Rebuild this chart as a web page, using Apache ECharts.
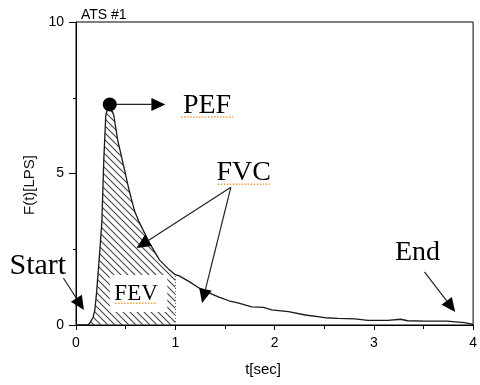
<!DOCTYPE html>
<html>
<head>
<meta charset="utf-8">
<script src="https://cdn.jsdelivr.net/npm/echarts@6/dist/echarts.min.js"></script>
<style>
  html, body { margin: 0; padding: 0; background: #fff; }
  #chart { width: 480px; height: 385px; }
</style>
</head>
<body>
<div id="chart"></div>
<script>
// flow-time curve
const timeSec = [0, 0.12, 0.14, 0.17, 0.19, 0.207, 0.233, 0.26, 0.28, 0.30, 0.32, 0.34,
  0.38, 0.42, 0.47, 0.53, 0.59, 0.64, 0.74, 0.84, 0.94, 1.0, 1.04, 1.14, 1.24, 1.34,
  1.44, 1.54, 1.64, 1.77, 1.89, 1.97, 2.14, 2.31, 2.51, 2.64, 2.81, 2.94, 3.14, 3.27,
  3.34, 3.51, 3.74, 3.91, 3.99, 4.0];
const flowLps = [0, 0, 0.07, 0.23, 0.5, 1.06, 2.15, 3.37, 5.45, 6.93, 7.16, 7.28,
  6.93, 6.1, 5.39, 4.52, 3.76, 3.37, 2.71, 2.15, 1.82, 1.66, 1.62, 1.43, 1.22, 1.06,
  0.92, 0.80, 0.72, 0.60, 0.58, 0.50, 0.44, 0.33, 0.24, 0.22, 0.20, 0.155, 0.155, 0.19,
  0.14, 0.13, 0.13, 0.08, 0.03, 0];

const xTicks = [0, 1, 2, 3, 4];
const yTicks = [0, 5, 10];
const fevEnd = 1.0;          // FEV1 window ends at 1 s
const pef = [0.34, 7.28];    // peak flow point
const fevBox = [[0.34, 0.43], [0.92, 1.65]];

// annotation anchors in data units: [label, x, y]
const labels = [
  ['PEF', 1.32, 7.25],
  ['FVC', 1.69, 5.03],
  ['Start', -0.385, 1.93],
  ['End', 3.44, 2.38],
  ['FEV', 0.605, 1.04]
];
// arrows: [tail, tip]
const arrows = [
  [[0.34, 7.28], [0.90, 7.28]],
  [[1.56, 4.55], [0.61, 2.54]],
  [[1.56, 4.55], [1.27, 0.73]],
  [[-0.127, 1.55], [0.08, 0.495]],
  [[3.51, 1.75], [3.82, 0.43]]
];

const curve = timeSec.map((t, i) => [t, flowLps[i]]);
const fevPart = curve.filter(p => p[0] <= fevEnd);

function hatch() {
  const c = document.createElement('canvas');
  c.width = 7; c.height = 7;
  const g = c.getContext('2d');
  g.strokeStyle = '#444';
  g.lineWidth = 1.1;
  g.beginPath();
  g.moveTo(-1, -1); g.lineTo(8, 8);
  g.moveTo(-1, 6); g.lineTo(1, 8);
  g.moveTo(6, -1); g.lineTo(8, 1);
  g.stroke();
  return c;
}

const sans = 'Liberation Sans';
const serif = 'Liberation Serif';

const chart = echarts.init(document.getElementById('chart'));

chart.setOption({
  animation: false,
  title: {
    text: 'ATS #1',
    left: 76, top: 3,
    textStyle: { fontFamily: sans, fontSize: 14, fontWeight: 'normal', color: '#000' }
  },
  grid: {
    left: 76, top: 22, right: 3, bottom: 60,
    show: true, borderColor: '#000', borderWidth: 1
  },
  xAxis: {
    type: 'value', min: 0, max: 4, interval: 1,
    name: 't[sec]', nameLocation: 'middle', nameGap: 37,
    nameTextStyle: { fontFamily: sans, fontSize: 15, color: '#000', padding: [0, 23, 0, 0] },
    axisLine: { lineStyle: { color: '#000', width: 1 } },
    axisTick: { length: 5, lineStyle: { color: '#000' } },
    minorTick: { show: true, splitNumber: 2, length: 4, lineStyle: { color: '#000' } },
    axisLabel: { fontFamily: sans, fontSize: 14, color: '#000', margin: 11,
      formatter: v => xTicks.includes(v) ? String(v) : '' },
    splitLine: { show: false }
  },
  yAxis: {
    type: 'value', min: 0, max: 10, interval: 5,
    name: 'F(t)[LPS]', nameLocation: 'middle', nameGap: 39,
    nameTextStyle: { fontFamily: sans, fontSize: 15, color: '#111', padding: [0, 23, 0, 0] },
    axisLine: { show: true, lineStyle: { color: '#000', width: 1 } },
    axisTick: { length: 7, lineStyle: { color: '#000' } },
    minorTick: { show: true, splitNumber: 2, length: 3, lineStyle: { color: '#000' } },
    axisLabel: { fontFamily: sans, fontSize: 14, color: '#000', margin: 12,
      formatter: v => yTicks.includes(v) ? String(v) : '' },
    splitLine: { show: false }
  },
  series: [
    {
      name: 'FEV', type: 'line', z: 1,
      data: fevPart, symbol: 'none',
      lineStyle: { width: 0 },
      areaStyle: { color: { image: hatch(), repeat: 'repeat' }, opacity: 1 },
      markLine: {
        silent: true, symbol: 'none', label: { show: false },
        lineStyle: { type: [1, 2], color: '#666', width: 1 },
        data: [[{ coord: [fevEnd, 0] }, { coord: [fevEnd, flowLps[timeSec.indexOf(fevEnd)]] }]]
      }
    },
    {
      name: 'Flow', type: 'line', z: 3,
      data: curve, symbol: 'none',
      lineStyle: { color: '#1a1a1a', width: 1.3 }
    }
  ]
});

// annotations, placed through the chart's own scales
const px = p => chart.convertToPixel({ gridIndex: 0 }, p);
const g = [];

// white box that clears the hatching behind the FEV label
const b0 = px(fevBox[0]), b1 = px(fevBox[1]);
g.push({
  type: 'rect', z: 10,
  shape: { x: b0[0], y: b1[1], width: b1[0] - b0[0], height: b0[1] - b1[1] },
  style: { fill: '#fff' }
});

arrows.forEach(([tail, tip]) => {
  const a = px(tail), b = px(tip);
  const dx = b[0] - a[0], dy = b[1] - a[1];
  const len = Math.hypot(dx, dy);
  const ux = dx / len, uy = dy / len;
  const L = 14, W = 6.5;
  const bx = b[0] - ux * L, by = b[1] - uy * L;
  g.push({
    type: 'line', z: 20,
    shape: { x1: a[0], y1: a[1], x2: bx, y2: by },
    style: { stroke: '#222', lineWidth: 1.2 }
  });
  g.push({
    type: 'polygon', z: 20,
    shape: { points: [b, [bx - uy * W, by + ux * W], [bx + uy * W, by - ux * W]] },
    style: { fill: '#000' }
  });
});

const dot = px(pef);
g.push({ type: 'circle', z: 21, shape: { cx: dot[0], cy: dot[1], r: 7 }, style: { fill: '#000' } });

labels.forEach(([text, x, y]) => {
  const p = px([x, y]);
  const size = text === 'FEV' ? 23 : (text === 'Start' ? 30 : 28);
  g.push({
    type: 'text', z: 22,
    style: {
      text, x: p[0], y: p[1], align: 'center', verticalAlign: 'middle',
      font: size + 'px "' + serif + '"', fill: '#000'
    }
  });
  if (text === 'PEF' || text === 'FVC' || text === 'FEV') {
    const w = text === 'FEV' ? 42 : 52;
    g.push({
      type: 'line', z: 22,
      shape: { x1: p[0] - w / 2, y1: p[1] + size * 0.42, x2: p[0] + w / 2, y2: p[1] + size * 0.42 },
      style: { stroke: '#f0a040', lineWidth: 1.5, lineDash: [1.5, 1.5] }
    });
  }
});

chart.setOption({ graphic: g });
</script>
</body>
</html>
